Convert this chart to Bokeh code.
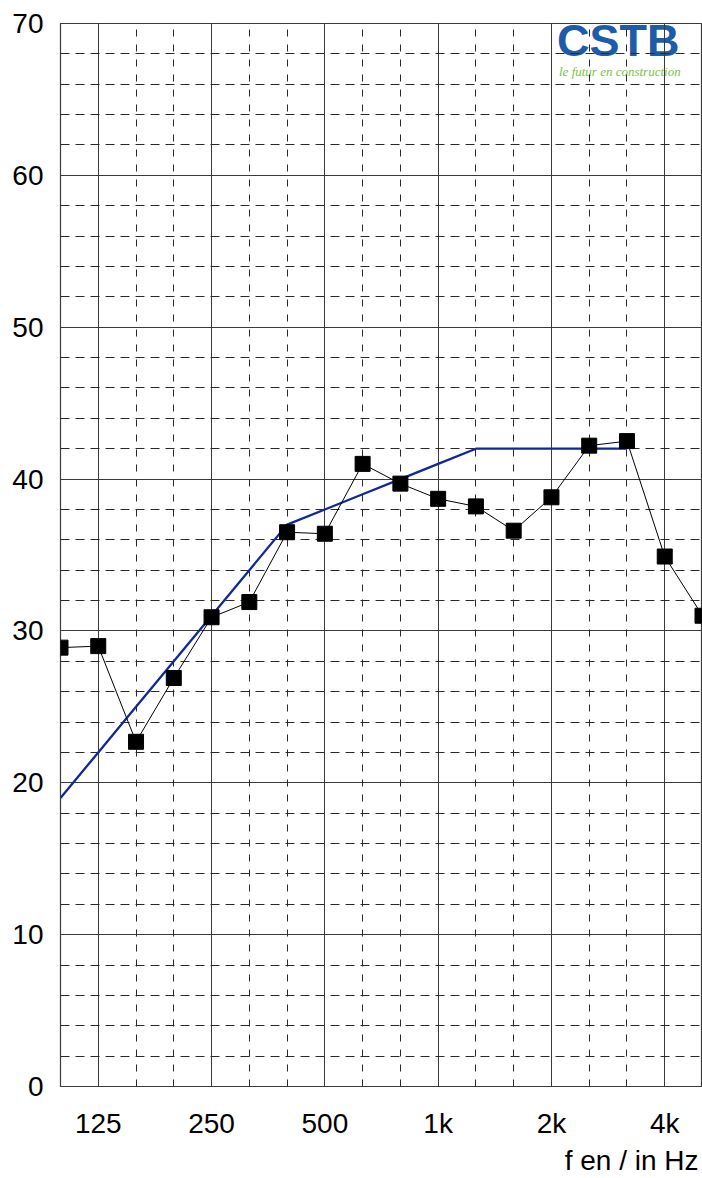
from bokeh.plotting import figure
from bokeh.models import Range1d, FixedTicker, Grid, Label, ColumnDataSource, Title
from bokeh.embed import file_html
from bokeh.resources import INLINE

# Third-octave bands (Hz)
bands = ["100", "125", "160", "200", "250", "315", "400", "500", "630",
         "800", "1000", "1250", "1600", "2000", "2500", "3150", "4000", "5000"]
# Measured values (dB)
measured = [28.9, 29.0, 22.7, 26.9, 30.9, 31.9, 36.5, 36.4, 41.0,
            39.7, 38.7, 38.2, 36.6, 38.8, 42.2, 42.5, 34.9, 31.0]
# Shifted reference curve (dB), 100 Hz .. 3150 Hz
reference = [19, 22, 25, 28, 31, 34, 37, 38, 39, 40, 41, 42, 42, 42, 42, 42]

major_ticks = [1, 4, 7, 10, 13, 16]
major_labels = ["125", "250", "500", "1k", "2k", "4k"]
y_ticks = [0, 10, 20, 30, 40, 50, 60, 70]
x_title = "f en / in Hz"

FONT = "Liberation Sans"

x_idx = list(range(len(bands)))
minor_x = [i for i in x_idx if i not in major_ticks and i != 0]
minor_y = [v for v in range(2, 70, 2) if v % 10 != 0]

p = figure(width=702, height=1176, output_backend="svg", toolbar_location=None,
           x_range=Range1d(0, len(bands) - 1), y_range=Range1d(0, 70),
           min_border_left=60, min_border_right=0, min_border_top=23,
           min_border_bottom=89)
p.background_fill_color = "white"
p.border_fill_color = "white"
p.outline_line_color = "#3a3a3a"
p.outline_line_width = 1.2

# axes
p.xaxis.ticker = FixedTicker(ticks=major_ticks)
p.xaxis.major_label_overrides = {t: l for t, l in zip(major_ticks, major_labels)}
p.yaxis.ticker = FixedTicker(ticks=y_ticks)
for ax in (p.xaxis, p.yaxis):
    ax.axis_line_color = None
    ax.major_tick_line_color = None
    ax.minor_tick_line_color = None
    ax.major_tick_out = 0
    ax.major_tick_in = 0
    ax.major_label_text_font = FONT
    ax.major_label_text_font_size = "28px"
    ax.major_label_text_color = "black"
p.xaxis.major_label_standoff = 21
p.yaxis.major_label_standoff = 17

# solid major grid
p.xgrid.ticker = FixedTicker(ticks=major_ticks)
p.ygrid.ticker = FixedTicker(ticks=y_ticks)
for g in (p.xgrid, p.ygrid):
    g.grid_line_color = "#3a3a3a"
    g.grid_line_width = 1

# dashed minor grid
gx = Grid(dimension=0, ticker=FixedTicker(ticks=minor_x),
          grid_line_color="#2a2a2a", grid_line_width=1, grid_line_dash="7 8")
gy = Grid(dimension=1, ticker=FixedTicker(ticks=minor_y),
          grid_line_color="#2a2a2a", grid_line_width=1, grid_line_dash="9 6")
p.add_layout(gx)
p.add_layout(gy)

# logo (behind grid)
logo1 = Label(x=13.15, y=68.85, text="CSTB", text_font=FONT,
              text_font_style="bold", text_font_size="45px",
              text_baseline="alphabetic",
              text_color="#1e5ba8", level="image")
logo2 = Label(x=13.2, y=66.85, text="le futur en construction",
              text_font="Liberation Sans Narrow", text_font_style="italic",
              text_font_size="13px", text_baseline="alphabetic",
              text_color="#7cbf4a", level="image")
p.add_layout(logo1)
p.add_layout(logo2)

# data
ref_src = ColumnDataSource(dict(x=x_idx[:len(reference)], y=reference))
meas_src = ColumnDataSource(dict(x=x_idx, y=measured))
p.line("x", "y", source=ref_src, line_color="#10289a", line_width=2.3)
p.line("x", "y", source=meas_src, line_color="black", line_width=1)
p.scatter("x", "y", source=meas_src, marker="square", size=15,
          fill_color="black", line_color="black")

# x axis title
p.add_layout(Title(text=x_title, align="right", text_font=FONT,
                   text_font_size="28px", text_font_style="normal",
                   text_color="black", standoff=2, offset=4), "below")

open("out.html", "w").write(file_html(p, INLINE))
